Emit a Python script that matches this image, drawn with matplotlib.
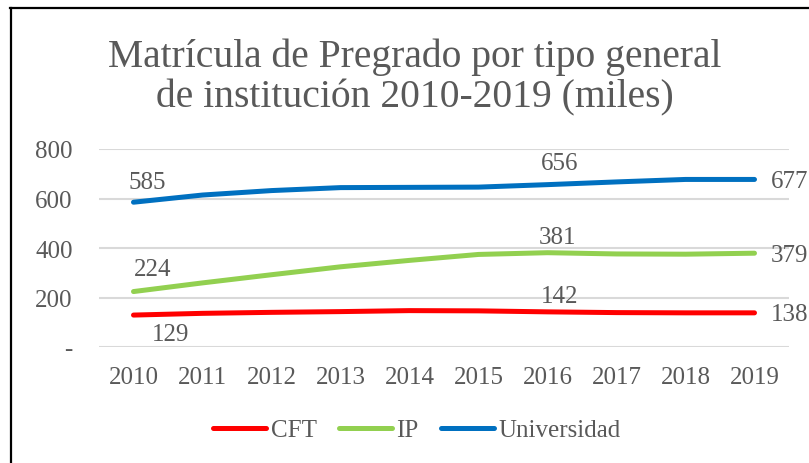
import matplotlib
matplotlib.use("Agg")
import matplotlib.pyplot as plt
from matplotlib.lines import Line2D

years = ["2010", "2011", "2012", "2013", "2014", "2015", "2016", "2017", "2018", "2019"]
cft = [129, 136, 140, 143, 147, 146, 142, 139, 138, 138]
ip = [224, 259, 292, 324, 350, 374, 381, 376, 375, 379]
univ = [585, 614, 632, 644, 645, 646, 656, 667, 677, 677]
series_names = ["CFT", "IP", "Universidad"]
colors = ["#FF0000", "#92D050", "#0070C0"]
yticks = [0, 200, 400, 600, 800]
ytick_labels = ["-", "200", "400", "600", "800"]
title_lines = ["Matrícula de Pregrado por tipo general", "de institución 2010-2019 (miles)"]

W, H = 809, 464
plt.rcParams["font.family"] = ["Liberation Serif", "DejaVu Serif"]
txt = "#595959"
fs = 18

fig = plt.figure(figsize=(W / 100, H / 100), dpi=100)
ax = fig.add_axes([99 / W, 1 - 348 / H, 690 / W, 198 / H])

x = list(range(len(years)))
data = [cft, ip, univ]
for vals, c, name in zip(data, colors, series_names):
    ax.plot(x, vals, color=c, lw=3.6, solid_capstyle="round", solid_joinstyle="round", label=name, zorder=3)

ax.set_xlim(-0.5, len(years) - 0.5)
ax.set_ylim(0, 800)
ax.set_yticks(yticks)
ax.set_yticklabels(ytick_labels)
ax.set_xticks(x)
ax.set_xticklabels(years)
ax.tick_params(axis="both", length=0, labelsize=fs, labelcolor=txt)
ax.tick_params(axis="y", pad=19)
ax.tick_params(axis="x", pad=14)
ax.grid(axis="y", color="#D9D9D9", lw=1.5)
ax.set_axisbelow(True)
for s in ax.spines.values():
    s.set_visible(False)

# data labels: (series, index, offset px, ha)
labels = [
    (univ, 0, (14, 20), "center"),
    (ip, 0, (19, 23), "center"),
    (cft, 0, (37, -19), "center"),
    (univ, 6, (12, 22), "center"),
    (ip, 6, (10, 16), "center"),
    (cft, 6, (12, 16), "center"),
    (univ, 9, (16, -2), "left"),
    (ip, 9, (16, -2), "left"),
    (cft, 9, (16, -1), "left"),
]
for vals, i, off, ha in labels:
    ax.annotate(str(vals[i]), (x[i], vals[i]), xytext=off, textcoords="offset pixels",
                ha=ha, va="center", fontsize=fs, color=txt, annotation_clip=False)

fig.text(415 / W, 1 - 57 / H, title_lines[0], ha="center", va="center", fontsize=28.5, color=txt)
fig.text(415 / W, 1 - 98 / H, title_lines[1], ha="center", va="center", fontsize=28.5, color=txt)

handles, lbls = ax.get_legend_handles_labels()
fig.legend(handles, lbls, loc="center", bbox_to_anchor=(417 / W, 1 - 431 / H), ncol=3, frameon=False,
           fontsize=18, labelcolor=txt, handlelength=2.1, handletextpad=0.2, columnspacing=0.9)

fig.add_artist(Line2D([10 / W, 1], [1 - 9 / H, 1 - 9 / H], color="black", lw=1.6, transform=fig.transFigure))
fig.add_artist(Line2D([11 / W, 11 / W], [0, 1 - 9 / H], color="black", lw=1.6, transform=fig.transFigure))

fig.savefig("out.png", dpi=100)
